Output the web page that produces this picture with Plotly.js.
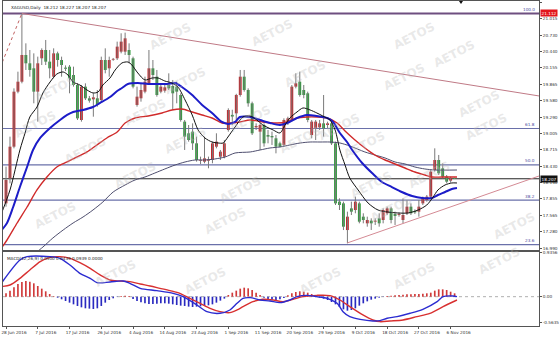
<!DOCTYPE html>
<html><head><meta charset="utf-8">
<script src="https://cdn.plot.ly/plotly-3.0.1.min.js"></script>
<style>html,body{margin:0;padding:0;background:#fff}#chart{width:560px;height:338px}</style>
</head><body><div id="chart"></div>
<script>
// ---------- DATA ----------
const dateLabels = ['28 Jun 2016','7 Jul 2016','17 Jul 2016','26 Jul 2016','4 Aug 2016','14 Aug 2016','23 Aug 2016','1 Sep 2016','11 Sep 2016','20 Sep 2016','29 Sep 2016','9 Oct 2016','18 Oct 2016','27 Oct 2016','6 Nov 2016'];
const dateBars = [0,8,16,24,32,40,48,56,64,72,80,88,96,104,112];

const open = [17.775,18.215,18.771,19.738,19.913,20.382,20.236,20.148,19.738,20.324,
20.470,20.265,20.001,20.411,20.294,20.160,20.177,20.031,19.855,19.240,
19.826,19.621,19.603,19.621,19.591,20.294,20.148,20.300,20.324,20.441,
20.441,20.470,20.324,19.504,19.621,19.738,19.884,20.148,20.001,19.738,
19.755,19.855,19.837,19.826,19.679,19.211,19.006,19.035,18.830,18.525,
18.508,18.525,18.537,18.771,18.595,18.595,19.064,19.330,19.357,19.679,
20.001,19.767,19.533,19.111,19.035,19.152,18.976,18.959,18.918,18.830,
18.801,19.211,19.240,19.826,19.913,19.767,19.709,18.976,19.093,19.111,
19.181,19.152,19.181,18.830,17.805,17.775,17.306,17.687,17.658,17.775,
17.541,17.424,17.471,17.453,17.512,17.482,17.600,17.687,17.588,17.570,
17.482,17.600,17.717,17.641,17.629,17.775,17.834,17.893,18.361,18.537,
18.390,18.244,18.174,18.212];
const high = [18.420,18.947,19.796,20.089,21.112,20.587,20.470,20.411,20.353,20.499,
20.646,20.470,20.499,20.441,20.353,20.200,20.206,20.177,19.884,19.855,
19.884,19.662,19.709,19.767,20.353,20.499,20.353,20.330,20.617,20.763,
20.775,20.587,20.353,19.826,19.884,20.001,20.470,20.294,20.119,19.855,
19.855,20.060,19.943,19.913,19.709,19.240,19.152,19.181,18.947,18.596,
18.947,18.596,18.859,19.006,18.713,18.888,19.445,19.420,19.700,20.119,
20.119,19.796,19.562,19.181,19.181,19.181,19.064,19.035,18.976,18.859,
19.269,19.298,19.855,20.060,20.089,19.855,19.738,19.240,19.240,19.240,
19.679,19.211,19.211,18.859,17.863,17.805,17.629,17.805,17.893,17.805,
17.600,17.541,17.512,17.512,17.600,17.687,17.717,17.717,17.629,17.612,
17.863,17.834,17.775,17.670,17.834,17.893,17.922,18.361,18.742,18.625,
18.478,18.273,18.244,18.227];
const low = [17.717,18.127,18.742,19.709,19.884,20.119,20.001,19.533,19.211,20.206,
20.206,19.972,19.972,20.177,20.001,20.100,19.709,19.826,19.240,19.211,
19.591,19.545,19.298,19.474,19.562,20.060,20.001,20.280,20.294,20.411,
20.382,20.236,19.796,19.474,19.562,19.709,19.855,19.943,19.650,19.709,
19.720,19.767,19.416,19.533,19.211,18.713,18.859,18.713,18.508,18.467,
18.479,18.391,18.479,18.742,18.537,18.566,19.035,19.150,19.240,19.650,
19.738,19.474,18.976,19.064,18.713,18.771,18.830,18.801,18.654,18.760,
18.771,19.152,19.211,19.796,19.650,19.621,19.200,18.918,18.888,19.064,
18.947,19.093,18.801,17.746,17.658,17.306,17.073,17.570,17.600,17.424,
17.424,17.365,17.307,17.395,17.365,17.424,17.570,17.424,17.395,17.541,
17.424,17.570,17.570,17.588,17.541,17.746,17.805,17.863,18.332,18.273,
18.215,18.127,18.138,18.207];
const close = [18.185,18.771,19.738,19.913,20.382,20.236,20.119,19.738,20.236,20.470,
20.265,20.148,20.411,20.294,20.206,20.140,19.972,19.855,19.269,19.826,
19.621,19.580,19.638,19.504,20.294,20.119,20.294,20.310,20.529,20.617,
20.675,20.382,19.826,19.650,19.767,19.913,20.148,20.031,19.679,19.826,
19.814,19.796,19.709,19.738,19.240,18.947,18.888,18.830,18.537,18.537,
18.566,18.549,18.830,18.859,18.683,18.830,19.416,19.300,19.679,20.001,
19.767,19.533,19.006,19.135,19.152,18.830,18.947,18.935,18.771,18.771,
19.240,19.269,19.826,19.884,19.679,19.679,19.240,19.211,19.211,19.181,
19.093,19.181,18.830,17.775,17.746,17.365,17.541,17.629,17.805,17.453,
17.482,17.482,17.424,17.471,17.424,17.658,17.687,17.482,17.553,17.588,
17.570,17.717,17.600,17.617,17.717,17.863,17.893,18.332,18.537,18.303,
18.244,18.156,18.215,18.207];

// moving averages (bar index, price)
const maBlackX = [-1.5,1,3.5,4.8,6,7.8,9.3,11.1,12.8,14.4,15.6,16.9,18.6,20.4,21.9,23.2,24.4,26.2,27.5,29.2,30.7,31.7,33.2,35,36.8,38.3,40,41.8,43.3,45.1,46.9,48.4,50.1,51.9,53.4,54.7,55.9,57.7,59.7,61.5,63.2,64.7,67.3,69,70.3,71.5,73.3,74.8,76.6,78.3,79.8,81.6,82.9,84.1,85.4,86.6,88.7,91.2,93.7,96.2,98.7,101.3,103.8,106,107.6,108.8,110.6,112.3,113.6];
const maBlackY = [17.535,18.010,18.713,19.012,19.293,19.468,19.715,19.908,20.048,20.084,20.031,19.908,19.855,19.767,19.715,19.732,19.855,19.978,20.119,20.242,20.259,20.207,20.066,19.943,19.978,19.978,19.925,19.890,19.820,19.592,19.328,19.064,18.924,18.853,18.836,18.836,18.941,19.117,19.293,19.310,19.240,19.152,19.064,19.012,19.152,19.275,19.381,19.451,19.416,19.363,19.310,19.240,19.064,18.713,18.449,18.220,18.010,17.781,17.658,17.623,17.606,17.606,17.658,17.746,17.887,18.010,18.098,18.133,18.133];
const maBlueX = [-1.5,0.25,1.8,3.5,5.3,6.8,8.6,11.1,13.6,15.4,16.9,19.4,21.9,23.7,26.2,28,29.2,30.7,33.2,35.8,38.3,40.8,42.6,44.3,46.9,49.4,51.9,54.4,55.9,57.7,58.9,61.5,64,66.5,69,70.8,73.3,75.8,78.3,80.9,82.4,84.1,85.9,87.2,89.7,92.2,94.7,97.2,99.7,102.3,104.8,107.3,108.8,110.6,112.3,113.6];
const maBlueY = [17.272,17.430,17.711,18.062,18.414,18.713,18.924,19.099,19.240,19.328,19.381,19.416,19.468,19.539,19.644,19.750,19.802,19.873,19.890,19.873,19.873,19.873,19.890,19.820,19.679,19.504,19.363,19.205,19.170,19.205,19.293,19.293,19.240,19.187,19.152,19.187,19.275,19.328,19.310,19.275,19.205,19.012,18.853,18.713,18.484,18.308,18.150,18.062,17.975,17.904,17.869,17.869,17.922,17.975,18.027,18.045];
const maRedX = [-1.5,0.25,2.8,5.3,7.8,10.3,12.8,15.4,17.9,20.4,22.9,25.4,28,30,32.5,35.8,39.3,41.8,44.3,46.9,49.4,51.9,54.4,56.4,58.9,61.5,64.7,68.3,70.8,73.3,75.8,78.3,80.9,83.4,85.4,87.9,90.4,92.9,95.5,98,100.5,103,105.5,107.3,109.8,113.6];
const maRedY = [16.955,17.131,17.430,17.711,18.010,18.238,18.414,18.502,18.590,18.678,18.801,18.924,19.029,19.187,19.275,19.310,19.363,19.416,19.433,19.381,19.328,19.275,19.187,19.187,19.205,19.240,19.205,19.187,19.205,19.275,19.293,19.293,19.275,19.187,19.047,18.889,18.748,18.625,18.537,18.467,18.396,18.326,18.273,18.238,18.238,18.238];
const maGrayX = [6.8,9.3,11.8,14.4,16.9,19.4,21.9,24.4,27,30,32.5,35,37.5,40,42.6,45.1,47.6,50.1,52.6,55.2,57.7,61.5,64,66.5,69,71.5,74.1,76.6,79.1,81.6,84.1,86.6,90.4,92.9,95.5,98,100.5,103,105.5,108.1,113.6];
const maGrayY = [16.867,17.008,17.166,17.307,17.430,17.535,17.658,17.799,17.975,18.098,18.186,18.238,18.308,18.379,18.449,18.502,18.537,18.537,18.555,18.590,18.660,18.678,18.713,18.748,18.766,18.801,18.836,18.853,18.853,18.853,18.836,18.783,18.678,18.625,18.572,18.502,18.467,18.414,18.379,18.361,18.361];

// Fibonacci levels and trendlines
const fibLevels = [21.112, 19.09, 18.45, 17.83, 17.05];
const fibNames = ['100.0','61.8','50.0','38.2','23.6'];
const lastPrice = 18.207;
const highMark = 21.112;
const upperTrendX = [4, 134.3];
const upperTrendY = [21.112, 19.662];
const lowerTrendX = [86, 134.3];
const lowerTrendY = [17.08, 18.256];
const fibDiagX = [-1.5, 4];
const fibDiagY = [20.156, 21.112];

const priceTicks = [21.305,21.015,20.730,20.440,20.155,19.865,19.580,19.290,19.005,18.715,18.430,18.140,17.855,17.565,17.280,16.990];

// MACD
const macdX = [-1.5,3.5,5.3,11.1,13.6,16.1,18.6,21.2,22.9,26.2,29.5,31.2,33.8,38,42.1,44.6,48.1,50.6,53.9,56.4,58.2,59.7,61.5,64,66.5,69,71.5,73.3,75.8,78.3,80.9,83.4,84.9,86.6,89.2,92.4,94.2,96,98.5,101.8,105,108.6,110.1,112.6,113.6];
const macdY = [0.250,0.786,0.857,0.857,0.822,0.679,0.500,0.393,0.301,0.315,0.336,0.286,0.179,0.129,0.072,0.001,-0.178,-0.321,-0.356,-0.285,-0.142,-0.035,-0.021,-0.071,-0.092,-0.128,-0.071,0.001,0.029,0.001,-0.035,-0.142,-0.321,-0.428,-0.485,-0.520,-0.513,-0.463,-0.428,-0.356,-0.271,-0.107,0.001,0.015,0.001];
const signalX = [-1.5,1,3.5,6,8.6,11.1,13.6,16.1,18.6,21.2,23.7,26.2,28.7,31.2,33.8,36.3,38.8,41.3,43.8,46.3,48.9,51.4,53.9,56.4,58.2,59.7,62.2,64.7,67.3,69.8,72.3,74.8,78.3,81.6,84.1,86.6,89.9,92.4,94.2,96.7,100,103.5,106.8,110.1,113.6];
const signalY = [0.215,0.250,0.393,0.572,0.750,0.843,0.857,0.822,0.729,0.607,0.465,0.357,0.336,0.322,0.272,0.229,0.179,0.129,0.072,-0.035,-0.142,-0.249,-0.321,-0.342,-0.285,-0.213,-0.107,-0.056,-0.071,-0.107,-0.056,0.001,0.029,0.022,-0.071,-0.213,-0.392,-0.499,-0.535,-0.520,-0.499,-0.428,-0.356,-0.213,-0.071];
const histogram = [0.072,0.129,0.200,0.272,0.315,0.336,0.322,0.286,0.229,0.172,
0.115,0.057,0.012,-0.021,-0.056,-0.092,-0.128,-0.164,-0.199,-0.228,
-0.249,-0.256,-0.264,-0.249,-0.199,-0.128,-0.071,-0.035,-0.006,0.015,
0.022,0.015,-0.050,-0.092,-0.121,-0.142,-0.157,-0.157,-0.150,-0.142,
-0.142,-0.150,-0.164,-0.178,-0.192,-0.199,-0.213,-0.221,-0.213,-0.206,
-0.199,-0.185,-0.164,-0.128,-0.085,-0.042,0.036,0.086,0.129,0.172,
0.193,0.179,0.143,0.086,0.036,-0.021,-0.050,-0.064,-0.071,-0.056,
-0.028,0.029,0.072,0.100,0.115,0.107,0.086,0.057,0.022,-0.021,
-0.042,-0.071,-0.114,-0.164,-0.221,-0.271,-0.300,-0.285,-0.249,-0.192,
-0.142,-0.100,-0.064,-0.042,-0.021,-0.006,0.015,0.022,0.029,0.036,
0.043,0.050,0.050,0.057,0.057,0.064,0.072,0.086,0.129,0.157,
0.157,0.143,0.107,0.072];
const macdTicks = [0.9356, 0, -0.5635];
const macdTickText = ['0.9356','0.00','-0.5635'];

const headerText = 'XAGUSD,Daily  18.212 18.227 18.207 18.207';
const macdText = 'MACD(12,26,9) 0.0500 0.0439 0.0939 0.0000';

// ---------- BUILD ----------
const bars = open.map((_, i) => i);
const FONT = 'DejaVu Sans, Arial, sans-serif';
const bodyBase = open.map((o, i) => Math.min(o, close[i]));
const bodyLen = open.map((o, i) => Math.max(Math.abs(close[i] - o), 0.014));
const bodyColor = open.map((o, i) => close[i] >= o ? '#c4262b' : '#2f9a3c');
const wickX = [], wickY = [];
bars.forEach(i => { wickX.push(i, i, null); wickY.push(low[i], high[i], null); });

const traces = [
  {type:'scatter', mode:'lines', x:wickX, y:wickY, line:{color:'#7a7a7a', width:1}, hoverinfo:'skip', xaxis:'x', yaxis:'y'},
  {type:'bar', x:bars, y:bodyLen, base:bodyBase, width:0.72, marker:{color:bodyColor, line:{width:0}}, xaxis:'x', yaxis:'y'},
  {type:'scatter', mode:'lines', x:maGrayX, y:maGrayY, line:{color:'#4e4e6e', width:1, shape:'spline', smoothing:0.8}, xaxis:'x', yaxis:'y'},
  {type:'scatter', mode:'lines', x:maRedX, y:maRedY, line:{color:'#d02a2a', width:1.4, shape:'spline', smoothing:0.8}, xaxis:'x', yaxis:'y'},
  {type:'scatter', mode:'lines', x:maBlueX, y:maBlueY, line:{color:'#1c1cc8', width:2, shape:'spline', smoothing:0.8}, xaxis:'x', yaxis:'y'},
  {type:'scatter', mode:'lines', x:maBlackX, y:maBlackY, line:{color:'#111111', width:1, shape:'spline', smoothing:0.8}, xaxis:'x', yaxis:'y'},
  {type:'scatter', mode:'lines', x:upperTrendX, y:upperTrendY, line:{color:'#c07a86', width:1}, xaxis:'x', yaxis:'y'},
  {type:'scatter', mode:'lines', x:lowerTrendX, y:lowerTrendY, line:{color:'#d48a94', width:1}, xaxis:'x', yaxis:'y'},
  {type:'scatter', mode:'lines', x:fibDiagX, y:fibDiagY, line:{color:'#c06060', width:1, dash:'dot'}, xaxis:'x', yaxis:'y'},
  {type:'bar', x:bars, y:histogram, width:0.42, marker:{color:histogram.map(v => v >= 0 ? '#d03a3a' : '#2a2ac0'), line:{width:0}}, xaxis:'x2', yaxis:'y2'},
  {type:'scatter', mode:'lines', x:signalX, y:signalY, line:{color:'#d83030', width:1.4, shape:'spline', smoothing:0.8}, xaxis:'x2', yaxis:'y2'},
  {type:'scatter', mode:'lines', x:macdX, y:macdY, line:{color:'#2b2bd0', width:1.4, shape:'spline', smoothing:0.8}, xaxis:'x2', yaxis:'y2'}
];

const shapes = [];
fibLevels.forEach((lv, k) => {
  shapes.push({type:'line', xref:'paper', yref:'y', x0:0, x1:1, y0:lv, y1:lv, layer:'below',
    line:{color: k === 0 ? '#6e4f80' : '#6a70aa', width: k === 0 ? 2 : 1.2}});
});
shapes.push({type:'line', xref:'paper', yref:'y', x0:0, x1:1, y0:lastPrice, y1:lastPrice, layer:'below', line:{color:'#222', width:1}});
shapes.push({type:'line', xref:'paper', yref:'y2', x0:0, x1:1, y0:0, y1:0, layer:'below', line:{color:'#b0b0b0', width:1, dash:'dot'}});
shapes.push({type:'path', xref:'paper', yref:'paper', path:'M 0.8507 1 L 0.8582 1 L 0.8545 0.9908 Z', fillcolor:'#111', line:{width:0}});

const annotations = [];
fibLevels.forEach((lv, k) => {
  annotations.push({xref:'paper', yref:'y', x:0.996, y:lv, xanchor:'right', yanchor:'bottom', text:fibNames[k], showarrow:false,
    font:{family:FONT, size:4.2, color:'#4a4aa0'}, yshift:-0.5});
});
annotations.push({xref:'paper', yref:'y', x:1, y:highMark, xanchor:'left', yanchor:'middle', text:'21.112', showarrow:false,
  bgcolor:'#e3161c', borderpad:0.6, font:{family:FONT, size:4.2, color:'#fff'}, xshift:1});
annotations.push({xref:'paper', yref:'y', x:1, y:lastPrice, xanchor:'left', yanchor:'middle', text:'18.207', showarrow:false,
  bgcolor:'#111', borderpad:0.6, font:{family:FONT, size:4.2, color:'#fff'}, xshift:1});
annotations.push({xref:'paper', yref:'paper', x:0.012, y:1, xanchor:'left', yanchor:'top', yshift:-1.5, text:headerText, showarrow:false,
  font:{family:FONT, size:4.2, color:'#222'}});
annotations.push({xref:'paper', yref:'y2 domain', x:0.004, y:1, xanchor:'left', yanchor:'top', yshift:-2.5, text:macdText, showarrow:false,
  font:{family:FONT, size:4.2, color:'#222'}});

// watermark (decoration), pixel centres
const wm = [[145,17],[272,14],[440,17],[30,70],[185,62],[305,55],[430,58],[480,35],
  [10,105],[120,112],[250,100],[365,108],[505,85],[60,150],[160,140],[300,140],[390,145],[512,127],
  [110,175],[240,190],[397,185],[455,175],[30,215],[225,240],[417,228],[540,245],
  [90,292],[205,300],[320,300],[440,295],[525,280]];
wm.forEach(p => annotations.push({xref:'paper', yref:'paper', x:(p[0]-3)/536, y:(326-p[1])/325, text:'AETOS', showarrow:false,
  textangle:-27, font:{family:'DejaVu Sans, Arial', size:12, color:'rgba(185,185,185,0.32)', weight:'bold'}}));

const axisCommon = {showgrid:false, zeroline:false, showline:true, mirror:true, linecolor:'#555', linewidth:1};
const layout = {
  width:560, height:338, margin:{l:3, r:21, t:1, b:12, autoexpand:false},
  paper_bgcolor:'#fff', plot_bgcolor:'#fff', showlegend:false, barmode:'overlay',
  font:{family:FONT, size:4.2, color:'#333'},
  xaxis:Object.assign({}, axisCommon, {domain:[0,1], anchor:'y', range:[-0.76,134.26], showticklabels:false, ticks:''}),
  yaxis:Object.assign({}, axisCommon, {domain:[0.2338,1], anchor:'x', side:'right', range:[16.955,21.331],
    tickvals:priceTicks, ticktext:priceTicks.map(v => v.toFixed(3)), ticks:'outside', ticklen:2, tickcolor:'#555',
    tickfont:{family:FONT, size:4.2, color:'#333'}, automargin:false}),
  xaxis2:Object.assign({}, axisCommon, {domain:[0,1], anchor:'y2', range:[-0.76,134.26],
    tickvals:dateBars, ticktext:dateLabels, ticks:'outside', ticklen:2, tickcolor:'#555', tickangle:0,
    ticklabelshift:8, tickfont:{family:FONT, size:4.2, color:'#333'}, automargin:false}),
  yaxis2:Object.assign({}, axisCommon, {domain:[0,0.2277], anchor:'x2', side:'right', range:[-0.628,0.957],
    tickvals:macdTicks, ticktext:macdTickText, ticks:'outside', ticklen:2, tickcolor:'#555',
    tickfont:{family:FONT, size:4.2, color:'#333'}, automargin:false}),
  shapes:shapes, annotations:annotations
};
Plotly.newPlot('chart', traces, layout, {staticPlot:true, displayModeBar:false});
</script></body></html>
